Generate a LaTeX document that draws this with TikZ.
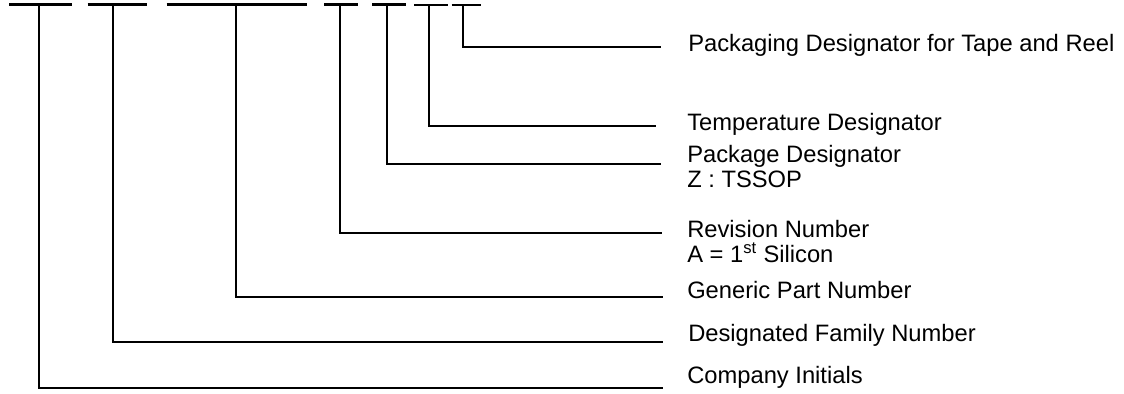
\documentclass[tikz,border=0pt]{standalone}
\usepackage{fontspec}
\setmainfont{Liberation Sans}
\tikzset{
	bar/.style={line width=1.75pt},
	lead/.style={line width=1.5pt},
	lbl/.style={anchor=base west,inner sep=0pt,align=left,font=\fontsize{17.8}{18.6}\selectfont}
}
\begin{document}
\begin{tikzpicture}[x=0.75pt,y=-0.75pt]
			\useasboundingbox (0,0) rectangle (1124,393);
			
			\draw [bar] (9.3,4.5)-- (71.7,4.5);
			\draw [bar] (87.7,4.5)-- (146.7,4.5);
			\draw [bar] (166.7,4.5)-- (306.7,4.5);
			\draw [bar] (324,4.5)-- (358.3,4.5);
			\draw [bar] (372.3,4.5)-- (406,4.5);
			\draw [bar] (414.3,5.3)-- (447.7,5.3);
			\draw [bar] (451.7,5.3)-- (480.7,5.3);
			
			\coordinate (ci) at (38.7,4.5);
			\coordinate (fam) at (113.3,4.5);
			\coordinate (gen) at (235.7,4.5);
			\coordinate (rev) at (340.3,4.5);
			\coordinate (pkg) at (387,4.5);
			\coordinate (tmp) at (429.3,5.3);
			\coordinate (tr) at (463.3,5.3);
			
			\coordinate (ciEnd) at (663,388.3);
			\coordinate (famEnd) at (663,342);
			\coordinate (genEnd) at (663,297.3);
			\coordinate (revEnd) at (662,233.3);
			\coordinate (pkgEnd) at (661,164.3);
			\coordinate (tmpEnd) at (656,126.3);
			\coordinate (trEnd) at (661,46.7);
			
			\node[lbl] (ciText) at (687,383) {Company Initials};
			\node[lbl] (famText) at (688,341) {Designated Family Number};
			\node[lbl] (genText) at (687,298) {Generic Part Number};
			\node[lbl] (revText) at (687,262) {Revision Number\\A = 1\textsuperscript{st} Silicon};
			\node[lbl] (pkgText) at (687,187) {Package Designator\\Z : TSSOP};
			\node[lbl] (tmpText) at (687,130.5) {Temperature Designator};
			\node[lbl] (trText) at (688,51.5) {Packaging Designator for Tape and Reel};
			
			\draw [lead] (ci) |- (ciEnd);
			\draw [lead] (fam) |- (famEnd);
			\draw [lead] (gen) |- (genEnd);
			\draw [lead] (rev) |- (revEnd);
			\draw [lead] (pkg) |- (pkgEnd);
			\draw [lead] (tmp) |- (tmpEnd);
			\draw [lead] (tr) |- (trEnd);
		\end{tikzpicture}
\end{document}
